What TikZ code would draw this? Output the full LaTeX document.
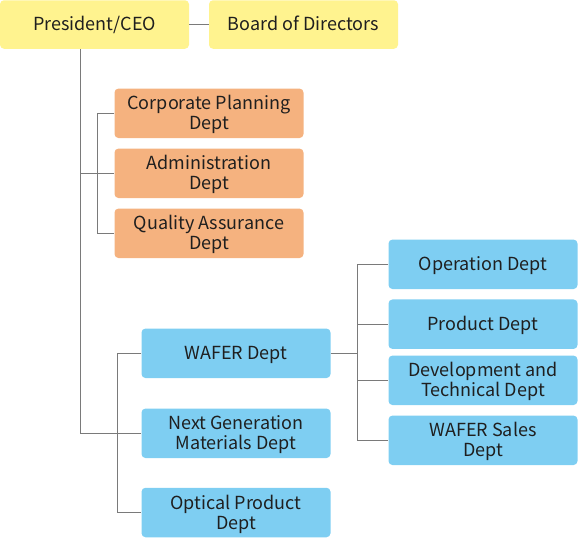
\documentclass[tikz,border=0pt]{standalone}
\usepackage{fontspec}
\setmainfont{Noto Sans CJK JP}
\definecolor{ceoyellow}{HTML}{FFF38F}
\definecolor{deptorange}{HTML}{F5B27F}
\definecolor{deptblue}{HTML}{7ECEF2}
\definecolor{linegray}{HTML}{7A7A7A}
\begin{document}
\begin{tikzpicture}[x=1pt,y=-1pt,
  box/.style={rounded corners=4pt, minimum width=189pt, minimum height=49.5pt, inner sep=0pt, align=center, font=\fontsize{18}{20}\selectfont, text=black!88},
  yel/.style={box, fill=ceoyellow, minimum height=48.5pt},
  org/.style={box, fill=deptorange},
  blu/.style={box, fill=deptblue},
  conn/.style={draw=linegray, line width=1.1pt},
  lbl/.style={box, yshift=-1.5pt},
  toplbl/.style={lbl, text height=13pt, text depth=4.5pt}]
\useasboundingbox (0,0) rectangle (578,538);
\node[yel] (ceo) at (94.5,24.5) {};
\node[yel] (board) at (303.5,24.5) {};
\node[org] (cp) at (209,113.3) {};
\node[org] (adm) at (209,173.3) {};
\node[org] (qa) at (209,233.3) {};
\node[blu] (waf) at (236,353.3) {};
\node[blu] (ng) at (236,433.3) {};
\node[blu] (opt) at (236,512.5) {};
\node[blu] (op) at (483,264.3) {};
\node[blu] (pd) at (483,324.2) {};
\node[blu] (dev) at (483,380.3) {};
\node[blu] (ws) at (483,440.3) {};
\node[toplbl] (ceot) at (ceo) {President/CEO};
\node[toplbl] (boardt) at (board) {Board of Directors};
\node[lbl] (cpt) at (cp) {Corporate Planning\\Dept};
\node[lbl] (admt) at (adm) {Administration\\Dept};
\node[lbl] (qat) at (qa) {Quality Assurance\\Dept};
\node[lbl] (waft) at (waf) {WAFER Dept};
\node[lbl] (ngt) at (ng) {Next Generation\\Materials Dept};
\node[lbl] (optt) at (opt) {Optical Product\\Dept};
\node[lbl] (opt2) at (op) {Operation Dept};
\node[lbl] (pdt) at (pd) {Product Dept};
\node[lbl] (devt) at (dev) {Development and\\Technical Dept};
\node[lbl] (wst) at (ws) {WAFER Sales\\Dept};
\coordinate (j0) at (80.7,433.3);
\coordinate (j1) at (97.3,173.3);
\coordinate (j2) at (117.3,433.3);
\coordinate (j3) at (357.3,353.3);
\draw[conn] (ceo.east) -- (board.west);
\draw[conn] (ceo.south -| j0) -- (j0) -- (ng.west);
\draw[conn] (j1 -| j0) -- (adm.west);
\draw[conn] (cp.west) -- (cp.west -| j1) -- (qa.west -| j1) -- (qa.west);
\draw[conn] (waf.west) -- (waf.west -| j2) -- (opt.west -| j2) -- (opt.west);
\draw[conn] (waf.east) -- (j3);
\draw[conn] (op.west) -- (op.west -| j3) -- (ws.west -| j3) -- (ws.west);
\draw[conn] (pd.west -| j3) -- (pd.west);
\draw[conn] (dev.west -| j3) -- (dev.west);
\end{tikzpicture}
\end{document}
